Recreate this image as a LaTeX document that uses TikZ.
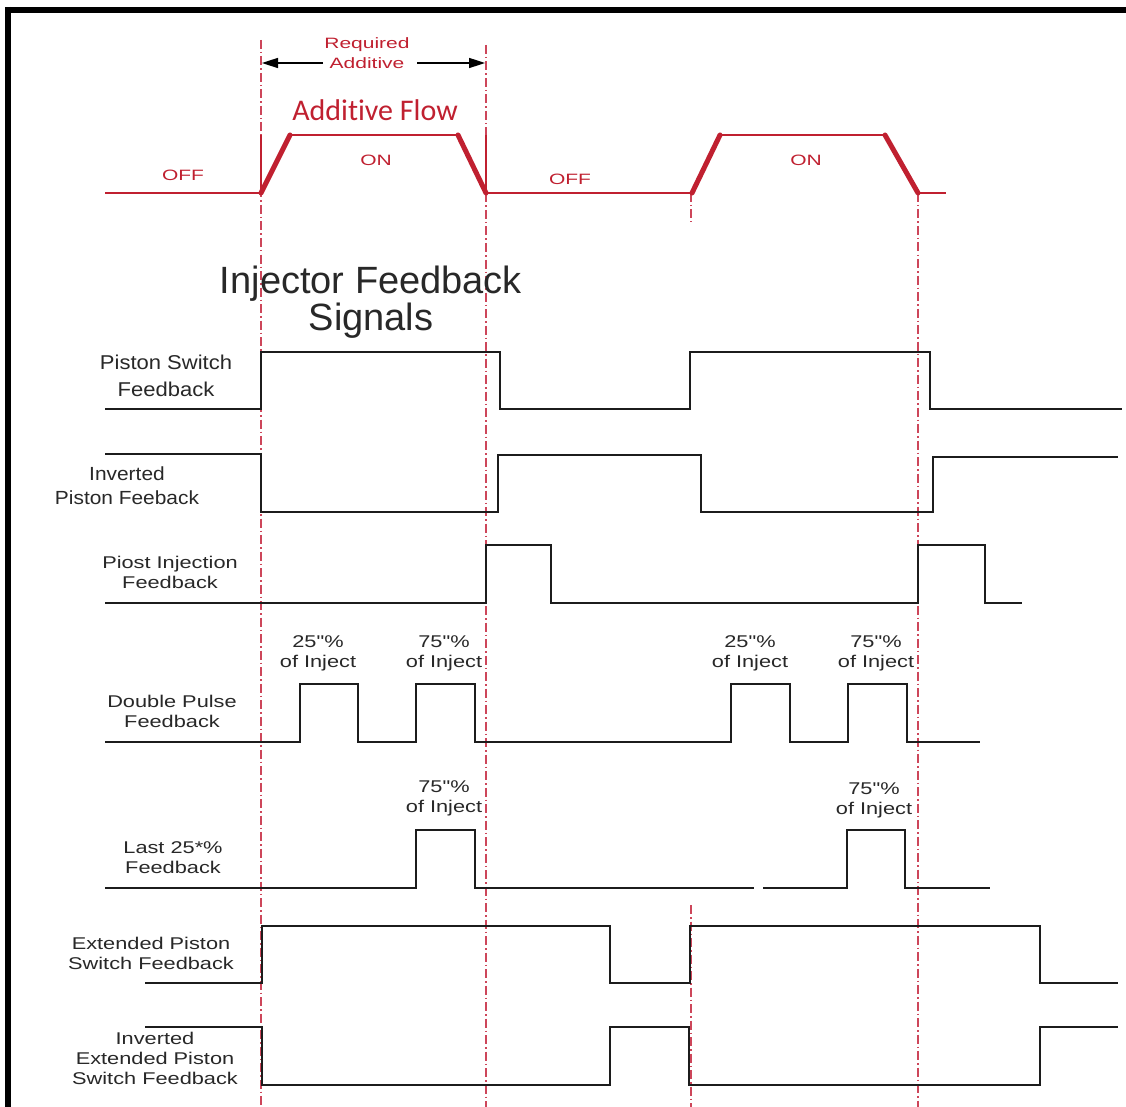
\documentclass[tikz,border=0pt]{standalone}
\usepackage{fontspec}
\setmainfont{Liberation Sans}
\newfontfamily\labelfont[FakeStretch=1.28]{Liberation Sans}
\newfontfamily\upperfont[FakeStretch=1.1]{Liberation Sans}
\newfontfamily\redfont[FakeStretch=1.4]{Liberation Sans}
\newfontfamily\flowfont[Ligatures={NoCommon}]{Carlito}
\usetikzlibrary{arrows.meta}
\definecolor{flowred}{RGB}{192,32,48}
\definecolor{guide}{RGB}{205,70,90}
\definecolor{sigblack}{RGB}{28,28,28}
\definecolor{txt}{RGB}{40,40,40}
\tikzset{
  x=1pt, y=-1pt,
  frame/.style={line width=6pt, black},
  guideline/.style={guide, line width=1.3pt, dash pattern=on 9pt off 3pt on 1.5pt off 3pt},
  flowline/.style={flowred, line width=2.6pt},
  flowthin/.style={flowred, line width=1.6pt},
  ramp/.style={flowred, line width=5pt, line cap=round},
  sig/.style={sigblack, line width=2.4pt, line join=miter},
  redlabel/.style={flowred, font=\redfont\fontsize{15}{20}\selectfont, align=center, inner sep=0pt},
  upperlabel/.style={txt, font=\upperfont\fontsize{20}{27}\selectfont, align=center, inner sep=0pt},
  siglabel/.style={txt, font=\labelfont\fontsize{17}{20}\selectfont, align=center, inner sep=0pt},
  dimarrow/.style={black, line width=1.6pt, -{Triangle[length=16pt,width=10pt]}},
}
\begin{document}
\begin{tikzpicture}
\useasboundingbox (0,0) rectangle (1126,1107);
\fill[white] (0,0) rectangle (1126,1107);

% frame edges
\draw[frame] (8,7) -- (8,1107);
\draw[frame] (5,10) -- (1126,10);

% timing guide lines
\draw[guideline] (261,40) -- (261,1107);
\draw[guideline] (486,45) -- (486,1107);
\draw[guideline] (691,193) -- (691,222);
\draw[guideline] (691,905) -- (691,1107);
\draw[guideline] (918,193) -- (918,1107);

% required additive span
\node[redlabel] (req) at (367,53) {Required\\Additive};
\coordinate (reqL) at (262,63);
\coordinate (reqR) at (485,63);
\draw[dimarrow] (323,63) -- (reqL);
\draw[dimarrow] (417,63) -- (reqR);

% additive flow trace
\node[flowred, font=\flowfont\fontsize{30}{36}\selectfont, inner sep=0pt] (flow) at (375,110) {Additive Flow};
\draw[flowline] (105,193) -- (261,193);
\draw[flowthin] (261,135) -- (261,193);
\draw[ramp] (261,193) -- (290,135);
\draw[flowline] (290,135) -- (458,135);
\draw[ramp] (458,135) -- (486,193);
\draw[flowthin] (486,135) -- (486,193);
\draw[flowline] (486,193) -- (692,193);
\draw[ramp] (692,193) -- (720,135);
\draw[flowline] (720,135) -- (885,135);
\draw[ramp] (885,135) -- (918,193);
\draw[flowline] (918,193) -- (946,193);
\node[redlabel] (off1) at (183,175) {OFF};
\node[redlabel] (on1) at (376,160) {ON};
\node[redlabel] (off2) at (570,179) {OFF};
\node[redlabel] (on2) at (806,160) {ON};

% heading
\node[txt, font=\fontsize{38}{35}\selectfont, align=center, inner sep=0pt] (title) at (371,302) {Injector Feedback\\Signals};

% piston switch feedback
\node[upperlabel] (ps) at (166,376) {Piston Switch\\Feedback};
\draw[sig] (105,409) -- (261,409) -- (261,352) -- (500,352) -- (500,409) -- (690,409)
  -- (690,352) -- (930,352) -- (930,409) -- (1122,409);

% inverted piston feedback
\node[upperlabel, font=\upperfont\fontsize{19}{24}\selectfont] (ips) at (127,486) {Inverted\\Piston Feeback};
\draw[sig] (105,454) -- (261,454) -- (261,512) -- (498,512) -- (498,455) -- (701,455)
  -- (701,512) -- (933,512) -- (933,457) -- (1118,457);

% post injection feedback
\node[siglabel] (pif) at (170,572) {Piost Injection\\Feedback};
\draw[sig] (105,603) -- (486,603) -- (486,545) -- (551,545) -- (551,603) -- (918,603)
  -- (918,545) -- (985,545) -- (985,603) -- (1022,603);

% double pulse feedback
\node[siglabel] (dp) at (172,711) {Double Pulse\\Feedback};
\draw[sig] (105,742) -- (300,742) -- (300,684) -- (358,684) -- (358,742) -- (416,742)
  -- (416,684) -- (475,684) -- (475,742) -- (731,742) -- (731,684) -- (790,684)
  -- (790,742) -- (848,742) -- (848,684) -- (907,684) -- (907,742) -- (980,742);
\node[siglabel] (dpa) at (318,653) {25"\%\\of Inject};
\node[siglabel] (dpb) at (444,653) {75"\%\\of Inject};
\node[siglabel] (dpc) at (750,653) {25"\%\\of Inject};
\node[siglabel] (dpd) at (876,653) {75"\%\\of Inject};

% last quarter feedback
\node[siglabel] (lq) at (173,858) {Last 25*\%\\Feedback};
\draw[sig] (105,888) -- (416,888) -- (416,830) -- (475,830) -- (475,888) -- (754,888);
\draw[sig] (763,888) -- (847,888) -- (847,830) -- (905,830) -- (905,888) -- (990,888);
\node[siglabel] (lqa) at (444,798) {75"\%\\of Inject};
\node[siglabel] (lqb) at (874,800) {75"\%\\of Inject};

% extended piston switch feedback
\node[siglabel] (eps) at (151,953) {Extended Piston\\Switch Feedback};
\draw[sig] (145,983) -- (262,983) -- (262,926) -- (610,926) -- (610,983) -- (690,983)
  -- (690,926) -- (1040,926) -- (1040,983) -- (1118,983);

% inverted extended piston switch feedback
\node[siglabel] (ieps) at (155,1058) {Inverted\\Extended Piston\\Switch Feedback};
\draw[sig] (145,1027) -- (262,1027) -- (262,1085) -- (610,1085) -- (610,1027) -- (689,1027)
  -- (689,1085) -- (1040,1085) -- (1040,1027) -- (1118,1027);
\end{tikzpicture}
\end{document}
